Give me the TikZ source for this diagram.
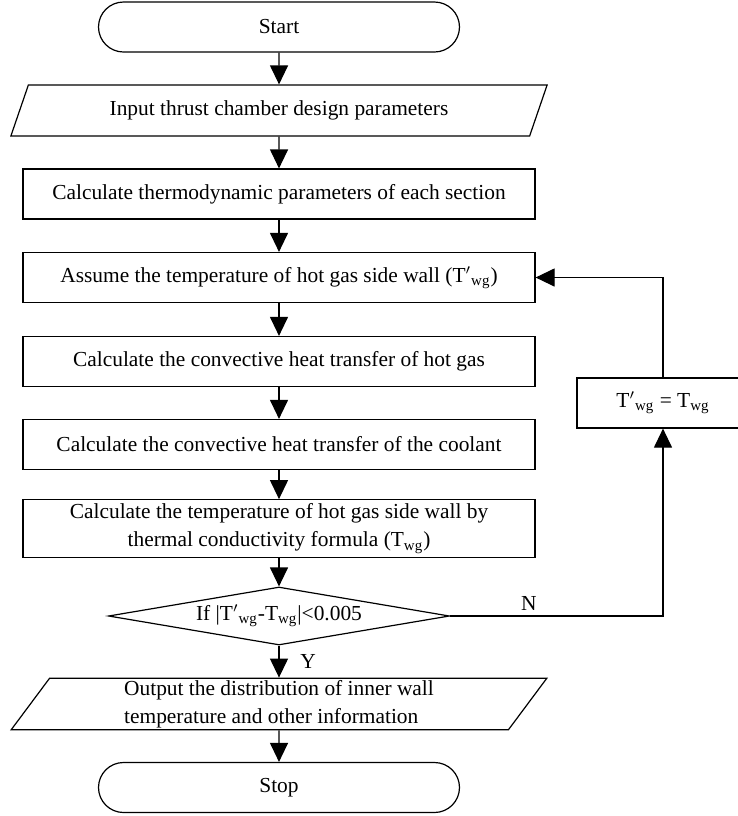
\documentclass[tikz,border=0pt]{standalone}
\usepackage{fontspec}
\setmainfont{Liberation Serif}
\usepackage{tikz}
\usetikzlibrary{positioning,arrows.meta,shapes.geometric}

\begin{document}
\begin{tikzpicture}[x=0.5pt, y=-0.5pt,
      every node/.style={font=\fontsize{10.7}{14}\selectfont},
      termbox/.style={draw, line width=0.6pt, rounded corners=12.5pt, minimum width=180.5pt, minimum height=25pt, inner sep=2pt},
      iobox/.style={draw, line width=0.6pt, trapezium, trapezium left angle=63, trapezium right angle=117, trapezium stretches, minimum width=268.5pt, minimum height=25.5pt, inner sep=1pt, align=left},
      procbox/.style={draw, line width=0.6pt, minimum width=256pt, minimum height=25pt, inner sep=2pt, align=center},
      decbox/.style={draw, line width=0.6pt, diamond, aspect=5.9, minimum width=170.5pt, minimum height=29pt, inner sep=0pt},
      flow/.style={-{Triangle[length=9.5pt, width=9pt]}, line width=0.6pt}
    ]
      \useasboundingbox (0,0) rectangle (738,816);

      % main column
      \node[termbox] (start) at (279,27) {Start};
      \node[iobox] (input) at (279,110.5) {Input thrust chamber design parameters};
      \node[procbox] (thermo) at (279,194) {Calculate thermodynamic parameters of each section};
      \node[procbox] (assume) at (279,277.5) {Assume the temperature of hot gas side wall (T$'$\textsubscript{wg})};
      \node[procbox] (hotgas) at (279,361.5) {Calculate the convective heat transfer of hot gas};
      \node[procbox] (coolant) at (279,444.5) {Calculate the convective heat transfer of the coolant};
      \node[procbox] (walltemp) at (279,528.5) {Calculate the temperature of hot gas side wall by\\thermal conductivity formula (T\textsubscript{wg})};
      \node[decbox] (check) at (279,616) {If |T$'$\textsubscript{wg}-T\textsubscript{wg}|<0.005};
      \node[iobox] (output) at (279,704) {Output the distribution of inner wall\\temperature and other information};
      \node[termbox] (stop) at (279,787.5) {Stop};

      % side box: update the assumed wall temperature
      \node[procbox, minimum width=86pt] (update) at (663,403) {T$'$\textsubscript{wg} = T\textsubscript{wg}};
      \coordinate (turn) at (663,616);

      \draw[flow] (start) -- (input);
      \draw[flow] (input) -- (thermo);
      \draw[flow] (thermo) -- (assume);
      \draw[flow] (assume) -- (hotgas);
      \draw[flow] (hotgas) -- (coolant);
      \draw[flow] (coolant) -- (walltemp);
      \draw[flow] (walltemp) -- (check);
      \draw[flow] (check) -- node[right, xshift=7pt] (ylab) {Y} (output);
      \draw[flow] (output) -- (stop);

      % loop back when not converged
      \draw[flow] (check.east) -- node[above, pos=0.37, yshift=-1pt] (nlab) {N} (turn) -- (update.south);
      \draw[flow] (update.north) |- (assume.east);
    \end{tikzpicture}
\end{document}
